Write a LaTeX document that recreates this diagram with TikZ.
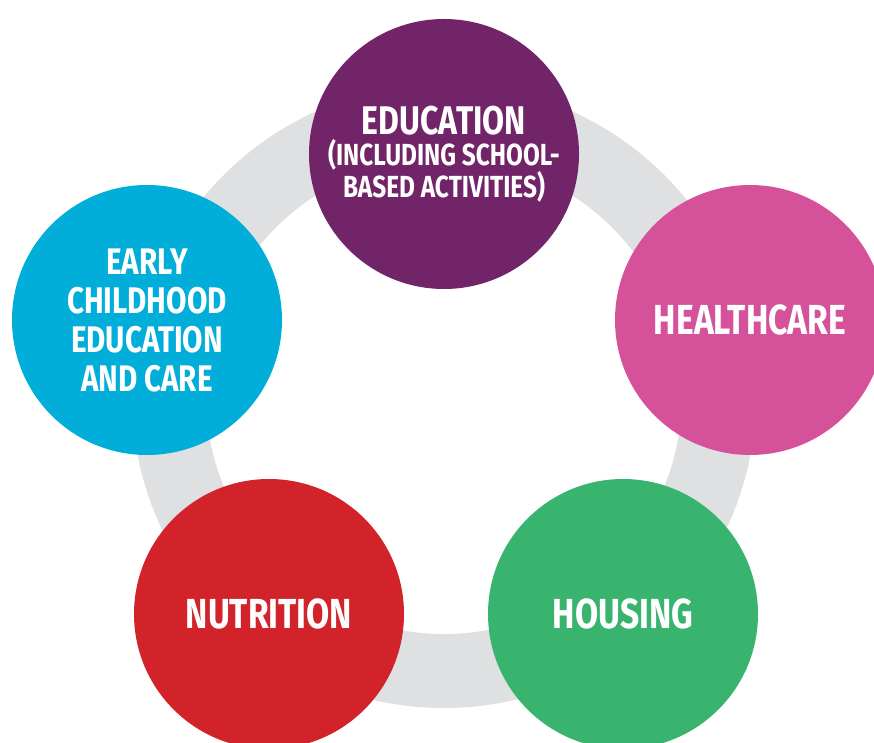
\documentclass[tikz,border=0pt]{standalone}
\usepackage{fontspec}
\newfontfamily\circlefont{Fira Sans}[FakeStretch=0.8]

\definecolor{ringgrey}{RGB}{223,224,226}
\definecolor{edupurple}{RGB}{114,36,104}
\definecolor{ececblue}{RGB}{0,174,217}
\definecolor{healthpink}{RGB}{213,82,155}
\definecolor{nutrired}{RGB}{210,35,42}
\definecolor{housegreen}{RGB}{57,180,111}

\tikzset{
    topic/.style={circle, minimum size=270pt, inner sep=0pt, text=white,
        align=center, font=\circlefont\bfseries\fontsize{42}{42}\selectfont},
    small/.style={font=\circlefont\bfseries\fontsize{30.5}{30}\selectfont},
}

\begin{document}
\begin{tikzpicture}[x=1pt,y=1pt]
        \clip (0,0) rectangle (874,742);
        \draw[ringgrey, line width=74pt] (444,346) circle [radius=275];
        \node[topic, small, fill=edupurple] (edu) at (444,588)
            {\fontsize{40}{40}\selectfont EDUCATION\\[1pt]
             (INCLUDING SCHOOL-\\BASED ACTIVITIES)};
        \node[topic, fill=ececblue,
              font=\circlefont\bfseries\fontsize{37}{39}\selectfont]
              (ecec) at (147,422) {EARLY\\CHILDHOOD\\EDUCATION\\AND CARE};
        \node[topic, fill=healthpink] (health) at (750,422) {HEALTHCARE};
        \node[topic, fill=nutrired]   (nutri)  at (269,128) {NUTRITION};
        \node[topic, fill=housegreen] (house)  at (623,128) {HOUSING};
    \end{tikzpicture}
\end{document}
